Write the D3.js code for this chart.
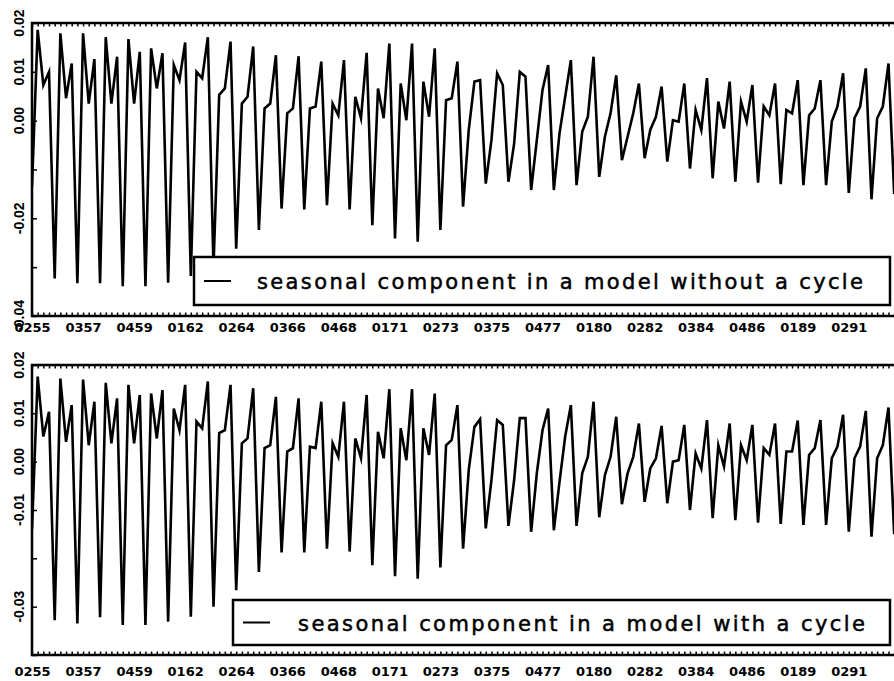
<!DOCTYPE html>
<html>
<head>
<meta charset="utf-8">
<script src="https://cdn.jsdelivr.net/npm/d3@7"></script>
<style>
  body { margin: 0; background: #fff; }
  svg { display: block; }
</style>
</head>
<body>
<svg></svg>
<script>
// quarterly seasonal component, first value = 2nd quarter 1955
var withoutCycle = [
  -0.0135, 0.0186, 0.0073, 0.0100, -0.0323, 0.0179, 0.0046, 0.0117,
  -0.0333, 0.0179, 0.0035, 0.0126, -0.0333, 0.0171, 0.0035, 0.0131,
  -0.0339, 0.0167, 0.0035, 0.0141, -0.0339, 0.0148, 0.0066, 0.0138,
  -0.0332, 0.0114, 0.0083, 0.0160, -0.0318, 0.0100, 0.0087, 0.0171,
  -0.0300, 0.0053, 0.0066, 0.0162, -0.0262, 0.0035, 0.0049, 0.0152,
  -0.0224, 0.0025, 0.0035, 0.0134, -0.0180, 0.0015, 0.0025, 0.0132,
  -0.0182, 0.0025, 0.0029, 0.0121, -0.0173, 0.0035, 0.0011, 0.0124,
  -0.0182, 0.0049, 0.0005, 0.0139, -0.0214, 0.0066, 0.0005, 0.0158,
  -0.0241, 0.0076, 0.0001, 0.0158, -0.0248, 0.0080, 0.0008, 0.0148,
  -0.0224, 0.0042, 0.0046, 0.0121, -0.0176, -0.0019, 0.0080, 0.0083,
  -0.0129, -0.0040, 0.0097, 0.0073, -0.0125, -0.0047, 0.0100, 0.0090,
  -0.0142, -0.0040, 0.0063, 0.0114, -0.0142, -0.0026, 0.0049, 0.0124,
  -0.0132, -0.0023, 0.0008, 0.0131, -0.0115, -0.0033, 0.0015, 0.0093,
  -0.0081, -0.0033, 0.0015, 0.0076, -0.0077, -0.0019, 0.0008, 0.0070,
  -0.0084, 0.0001, -0.0002, 0.0076, -0.0098, 0.0022, -0.0019, 0.0087,
  -0.0118, 0.0039, -0.0016, 0.0080, -0.0125, 0.0039, -0.0002, 0.0073,
  -0.0127, 0.0029, 0.0011, 0.0076, -0.0130, 0.0022, 0.0015, 0.0083,
  -0.0132, 0.0011, 0.0025, 0.0083, -0.0132, -0.0002, 0.0029, 0.0097,
  -0.0148, 0.0005, 0.0029, 0.0107, -0.0161, 0.0005, 0.0029, 0.0117,
  -0.0150
];
var withCycle = [
  -0.0140, 0.0176, 0.0052, 0.0103, -0.0328, 0.0172, 0.0041, 0.0117,
  -0.0335, 0.0170, 0.0034, 0.0124, -0.0322, 0.0163, 0.0038, 0.0131,
  -0.0338, 0.0159, 0.0038, 0.0138, -0.0338, 0.0141, 0.0048, 0.0148,
  -0.0331, 0.0110, 0.0065, 0.0159, -0.0321, 0.0083, 0.0069, 0.0166,
  -0.0300, 0.0059, 0.0065, 0.0159, -0.0266, 0.0038, 0.0048, 0.0152,
  -0.0228, 0.0028, 0.0034, 0.0134, -0.0188, 0.0021, 0.0028, 0.0131,
  -0.0188, 0.0031, 0.0028, 0.0124, -0.0180, 0.0038, 0.0010, 0.0124,
  -0.0186, 0.0048, 0.0007, 0.0138, -0.0214, 0.0062, 0.0007, 0.0150,
  -0.0237, 0.0069, 0.0003, 0.0150, -0.0242, 0.0069, 0.0014, 0.0141,
  -0.0219, 0.0034, 0.0045, 0.0117, -0.0180, -0.0017, 0.0072, 0.0088,
  -0.0138, -0.0038, 0.0086, 0.0076, -0.0133, -0.0038, 0.0090, 0.0090,
  -0.0145, -0.0024, 0.0065, 0.0110, -0.0142, -0.0042, 0.0052, 0.0117,
  -0.0133, -0.0024, 0.0010, 0.0124, -0.0115, -0.0028, 0.0010, 0.0093,
  -0.0088, -0.0024, 0.0010, 0.0079, -0.0083, -0.0014, 0.0007, 0.0074,
  -0.0086, 0.0000, 0.0003, 0.0076, -0.0100, 0.0017, -0.0014, 0.0086,
  -0.0117, 0.0034, -0.0010, 0.0079, -0.0121, 0.0034, 0.0003, 0.0076,
  -0.0126, 0.0028, 0.0014, 0.0079, -0.0129, 0.0021, 0.0021, 0.0085,
  -0.0131, 0.0014, 0.0028, 0.0086, -0.0131, 0.0007, 0.0031, 0.0097,
  -0.0145, 0.0007, 0.0031, 0.0105, -0.0155, 0.0007, 0.0034, 0.0112,
  -0.0150
];
// one label every 9 quarters, starting at the first observation
var tickLabels = ["0255", "0357", "0459", "0162", "0264", "0366", "0468", "0171", "0273",
                  "0375", "0477", "0180", "0282", "0384", "0486", "0189", "0291"];
var yLabelsTop = [0.02, 0.01, 0.00, -0.02, -0.04];
var yLabelsBottom = [0.02, 0.01, 0.00, -0.01, -0.03];
var legendTop = "seasonal component in a model without a cycle";
var legendBottom = "seasonal component in a model with a cycle";

var width = 894;
var height = 681;
var svg = d3.select('svg')
    .attr('width', width)
    .attr('height', height);

var x = d3.scaleLinear().domain([0, 152.5]).range([32, 897]);
var fmt = d3.format('.2f');

function drawPanel(series, yLabels, legendText, box, id) {
    var y = d3.scaleLinear().domain([-0.04, 0.02]).range([box.bottom, box.top]);
    var g = svg.append('g');

    g.append('clipPath').attr('id', id)
        .append('rect')
        .attr('x', x.range()[0]).attr('y', box.top)
        .attr('width', x.range()[1] - x.range()[0]).attr('height', box.bottom - box.top);

    var line = d3.line()
        .x((d, i) => x(i))
        .y(d => y(d));

    g.append('path')
        .datum(series)
        .attr('clip-path', `url(#${id})`)
        .attr('fill', 'none')
        .attr('stroke', '#000')
        .attr('stroke-width', 2.6)
        .attr('stroke-miterlimit', 6)
        .attr('d', line);

    // small quarter ticks on top and bottom of the frame
    var quarters = d3.range(0, series.length);
    g.append('g')
        .attr('transform', `translate(0,${box.top})`)
        .call(d3.axisBottom(x).tickValues(quarters).tickSize(3.5).tickFormat(''));
    g.append('g')
        .attr('transform', `translate(0,${box.bottom})`)
        .call(d3.axisTop(x).tickValues(quarters).tickSize(3.5).tickFormat(''));

    // left ticks every 0.01
    g.append('g')
        .attr('transform', `translate(${x.range()[0]},0)`)
        .call(d3.axisRight(y).tickValues(d3.range(-4, 3).map(k => k / 100)).tickSize(5).tickFormat(''));

    g.selectAll('.domain').remove();
    g.selectAll('.tick line').attr('stroke', '#000').attr('stroke-width', 1.5);

    // frame
    g.append('rect')
        .attr('x', x.range()[0]).attr('y', box.top)
        .attr('width', x.range()[1] - x.range()[0]).attr('height', box.bottom - box.top)
        .attr('fill', 'none')
        .attr('stroke', '#000')
        .attr('stroke-width', 2.5);

    // x labels
    var xl = g.append('g')
        .attr('transform', `translate(0,${box.labelY})`)
        .call(d3.axisBottom(x)
            .tickValues(tickLabels.map((d, i) => i * 9))
            .tickSize(0)
            .tickFormat((d, i) => tickLabels[i]));
    xl.select('.domain').remove();
    xl.selectAll('text')
        .attr('dy', 0)
        .attr('y', 0)
        .attr('fill', '#000')
        .style('font-family', '"DejaVu Sans", sans-serif')
        .style('font-weight', 'bold')
        .style('font-size', '13px');

    // y labels, rotated
    g.selectAll('.ylab').data(yLabels)
        .enter()
        .append('text')
        .attr('class', 'ylab')
        .attr('transform', d => `translate(19,${y(d)}) rotate(-90)`)
        .attr('text-anchor', 'middle')
        .attr('dy', '0.35em')
        .style('font-family', '"Liberation Sans", Arial, sans-serif')
        .style('font-weight', 'bold')
        .style('font-size', '14px')
        .text(d => fmt(d).replace('\u2212', '-'));

    // legend
    var lg = g.append('g');
    lg.append('rect')
        .attr('x', box.legend.x).attr('y', box.legend.y)
        .attr('width', box.legend.w).attr('height', box.legend.h)
        .attr('fill', '#fff')
        .attr('stroke', '#000')
        .attr('stroke-width', 2.5);
    lg.append('line')
        .attr('x1', box.legend.x + 10).attr('x2', box.legend.x + 37)
        .attr('y1', box.legend.y + box.legend.h / 2).attr('y2', box.legend.y + box.legend.h / 2)
        .attr('stroke', '#000')
        .attr('stroke-width', 2);
    lg.append('text')
        .attr('x', box.legend.textX)
        .attr('y', box.legend.y + box.legend.h / 2 + 8)
        .attr('textLength', box.legend.textW)
        .attr('lengthAdjust', 'spacing')
        .attr('stroke', '#000')
        .attr('stroke-width', 0.5)
        .style('font-family', '"DejaVu Sans", sans-serif')
        .style('font-size', '21px')
        .text(legendText);
}

drawPanel(withoutCycle, yLabelsTop, legendTop, {
    top: 23, bottom: 316, labelY: 332,
    legend: { x: 194, y: 257, w: 696, h: 48, textX: 257, textW: 606 }
}, 'clipTop');

drawPanel(withCycle, yLabelsBottom, legendBottom, {
    top: 365, bottom: 655, labelY: 676,
    legend: { x: 233, y: 600, w: 657, h: 45, textX: 298, textW: 567 }
}, 'clipBottom');
</script>
</body>
</html>
